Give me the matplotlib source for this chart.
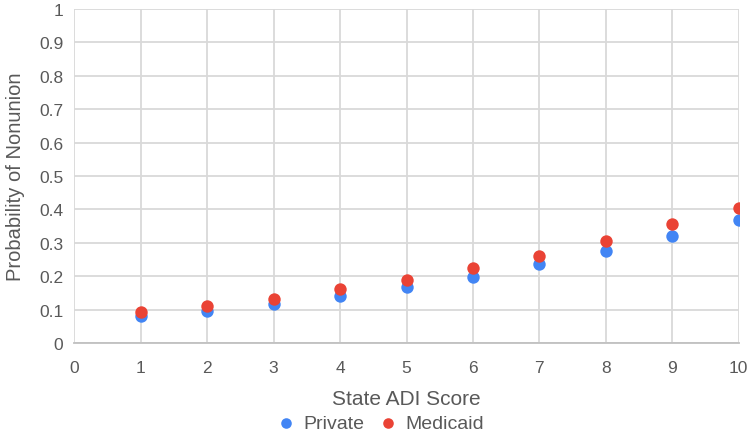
import matplotlib.pyplot as plt
from matplotlib.ticker import FuncFormatter

plt.rcParams['font.family'] = ['Liberation Sans', 'DejaVu Sans']

adi = [1, 2, 3, 4, 5, 6, 7, 8, 9, 10]
private = [0.082, 0.097, 0.117, 0.142, 0.167, 0.199, 0.236, 0.275, 0.320, 0.367]
medicaid = [0.092, 0.110, 0.132, 0.161, 0.190, 0.224, 0.262, 0.307, 0.355, 0.403]

fig = plt.figure(figsize=(7.5, 4.35), dpi=100)
ax = fig.add_axes([0.099, 0.209, 0.886, 0.768])

ax.scatter(adi, private, s=80, color='#4285F4', label='Private', zorder=3, linewidths=0)
ax.scatter(adi, medicaid, s=80, color='#EA4335', label='Medicaid', zorder=3, linewidths=0)

ax.set_xlim(0, 10)
ax.set_ylim(0, 1)
ax.set_xticks(range(0, 11))
ax.set_yticks([i / 10 for i in range(11)])
ax.yaxis.set_major_formatter(FuncFormatter(lambda v, p: f'{v:g}'))
ax.grid(True, color='#d9d9d9', linewidth=1.3, zorder=0)
ax.set_axisbelow(True)
for s in ['top', 'right', 'left']:
    ax.spines[s].set_visible(False)
ax.spines['bottom'].set_color('#c0c0c0')
ax.spines['bottom'].set_linewidth(1.3)
ax.tick_params(length=0, labelsize=12.5, colors='#595959')
ax.tick_params(axis='x', pad=12)
ax.tick_params(axis='y', pad=8)

ax.set_xlabel('State ADI Score', fontsize=15, color='#595959', labelpad=10)
ax.set_ylabel('Probability of Nonunion', fontsize=14.5, color='#595959', labelpad=10)

fig.legend(loc='lower center', bbox_to_anchor=(0.5, -0.035), ncol=2, frameon=False,
           fontsize=14, handletextpad=-0.1, columnspacing=0.2, markerscale=0.85,
           labelcolor='#595959')

fig.savefig('out.png', dpi=100)
